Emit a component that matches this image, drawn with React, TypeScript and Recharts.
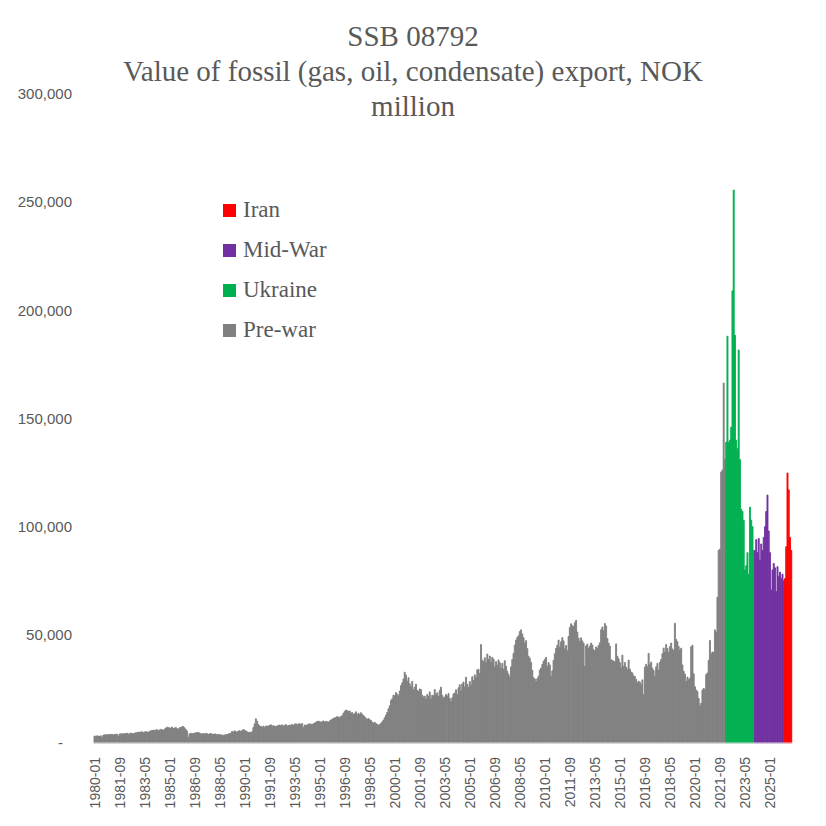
import React from "react";
import { BarChart, Bar, XAxis, YAxis } from "recharts";

// Pre-war monthly values, NOK million (1980-01 .. 2022-01)
const preWar1980s = [
  3200, 3100, 3300, 3200, 3000, 3300, 2500, 3600, 3800, 3700, 3900, 3800,
  3800, 3900, 4000, 3700, 3900, 4100, 4000, 3200, 4100, 4300, 4200, 4300,
  4200, 4400, 4500, 4100, 4300, 4600, 4400, 4300, 4500, 4700, 4800, 5000,
  4900, 5100, 5200, 4800, 5000, 5300, 5100, 5000, 5400, 5600, 5800, 5900,
  5800, 6000, 6200, 5700, 6000, 6300, 6100, 5900, 6400, 6900, 7300, 7100,
  7000, 6800, 7400, 6700, 6900, 7200, 6600, 6500, 7000, 7200, 7500, 7600,
  7000, 6200, 5500, 2600, 4200, 4500, 4300, 4400, 4600, 4700, 4800, 4900,
  4600, 4300, 4200, 4400, 4100, 4500, 4300, 4000, 4200, 4400, 4100, 4000,
  4200, 4100, 3800, 4000, 3700, 3900, 3500, 3600, 3700, 3800, 3900, 4200,
  4300, 4600, 5400, 5000, 5600, 5300, 5100, 5500, 5700, 5300, 5800, 6200,
];
const preWar1990s = [
  6000, 5500, 5200, 4800, 5000, 4800, 5200, 7200, 8800, 11200, 10100, 8600,
  7900, 7600, 7400, 7800, 7200, 7900, 7700, 7900, 8100, 8400, 7800, 8100,
  7600, 7700, 7900, 8100, 8300, 8000, 8400, 7800, 8200, 8500, 7900, 8100,
  8200, 8300, 8600, 8100, 8700, 8900, 8400, 8800, 8900, 8600, 9000, 7100,
  8300, 8200, 8400, 8600, 8900, 8700, 8600, 8900, 9200, 9600, 9900, 10100,
  9800, 9600, 9900, 10200, 9700, 10000, 9800, 9600, 10200, 10600, 11000, 11400,
  11600, 11800, 12200, 12000, 11700, 12300, 12600, 13800, 14600, 15200, 15000, 14600,
  14800, 13800, 14100, 13200, 13600, 14400, 13100, 13800, 13200, 14000, 13300, 12700,
  12100, 11400, 11000, 11300, 10800, 10400, 9700, 9100, 9600, 9000, 8600, 8200,
  8600, 9000, 9800, 10600, 11700, 12900, 14100, 15800, 17200, 19600, 20400, 22100,
];
const preWar2000s = [
  21800, 23300, 22600, 21800, 24000, 26500, 27800, 29600, 32700, 31400, 28600, 30200,
  27400, 26000, 28500, 24600, 25800, 27200, 24400, 23800, 25000, 24700, 22100, 21300,
  21600, 20300, 22400, 21500, 23600, 20400, 22100, 21800, 24700, 22500, 23200, 21600,
  24300, 25800, 22100, 20800, 21300, 22400, 21700, 22900, 20600, 19200, 20900, 22700,
  23100, 24600, 22400, 25500, 26900, 24100, 27300, 28200, 25900, 30400, 27100, 25700,
  28400, 26800, 30600, 28900, 31500, 30400, 33800, 34100, 32200, 45500, 38300, 37600,
  39400, 37200, 41100, 38600, 40200, 37400, 39600, 38800, 35200, 37600, 35900, 38400,
  37100, 34500, 36800, 34100, 38000, 35500, 33200, 31800, 30500, 35200, 38600, 41400,
  45300, 47600, 48800, 49600, 51500, 52300, 50400, 48700, 46200, 47300, 43600, 40100,
  39200, 37300, 33600, 30200, 29600, 28400, 29800, 30900, 33700, 34600, 36300, 37800,
];
const preWar2010s = [
  38700, 39600, 35400, 37200, 36100, 30800, 33400, 38200, 41300, 43800, 45200, 47600,
  44300, 46800, 48700, 47200, 43500, 45100, 42600, 49200, 53400, 55100, 54200, 53800,
  55600, 56700, 51300, 48400, 46900, 48600, 47200, 46100, 35400, 44900, 45700, 43600,
  44800, 46200, 45300, 43100, 42700, 44400, 43800, 45100, 46300, 52400, 53600, 51900,
  55200, 54100, 48300, 46200, 44800, 38500, 38100, 37900, 37400, 45800, 40100, 38900,
  37200, 34800, 40600, 35400, 37200, 35100, 33900, 38300, 34200, 32800, 32400, 31100,
  30700, 29400, 27800, 28600, 28100, 26900, 29200, 22300, 35100, 36400, 35300, 41400,
  36200, 37400, 34600, 33500, 30900, 35200, 36800, 33700, 37300, 38600, 41200, 43900,
  42100, 45500, 43700, 41900, 44600, 46200, 43500, 42700, 55300, 47900, 46800, 44600,
  42900, 43800, 36100, 33200, 31900, 28400, 30500, 29200, 30000, 44500, 45200, 32000,
];
const preWar2020s = [
  26000, 24500, 23800, 20600, 17200, 18400, 24500, 25200, 24800, 31600, 32400, 38200,
  47400, 41200, 42100, 41800, 52300, 51200, 67400, 89100, 89600, 125300, 126200, 166400,
  131200,
];
// 2022-02 .. 2023-12
const ukraine = [
  139000, 188000, 139000, 140000, 146000, 209000, 255600, 188500, 140000, 136000, 181700, 131000,
  108000, 107000, 103000, 80000, 82000, 88000, 78000, 109000, 103000, 100000, 89000,
];
// 2024-01 .. 2025-12
const midWar = [
  89000, 94000, 88000, 94500, 84600, 92000, 89000, 95000, 100000, 107000, 114600, 98000,
  88000, 70700, 80000, 83000, 81000, 70000, 81500, 77000, 79000, 76000, 78000, 75000,
];
// 2026-01 .. 2026-06
const iran = [76000, 90700, 124800, 117000, 95000, 89000];

const yTicks = [0, 50000, 100000, 150000, 200000, 250000, 300000];

const preWar = [...preWar1980s, ...preWar1990s, ...preWar2000s, ...preWar2010s, ...preWar2020s];
const total = preWar.length + ukraine.length + midWar.length + iran.length;
const months: string[] = [];
for (let k = 0; k < total; k++) {
  const yr = 1980 + Math.floor(k / 12);
  const mo = (k % 12) + 1;
  months.push(`${yr}-${mo < 10 ? "0" + mo : mo}`);
}
const data = months.map((m, k) => {
  const a = preWar.length;
  const b = a + ukraine.length;
  const c = b + midWar.length;
  return {
    month: m,
    prewar: k < a ? preWar[k] : null,
    ukraine: k >= a && k < b ? ukraine[k - a] : null,
    midwar: k >= b && k < c ? midWar[k - b] : null,
    iran: k >= c ? iran[k - c] : null,
  };
});

const TXT = "#595959";
const SERIF = "'Liberation Serif', 'DejaVu Serif', serif";
const SANS = "'Liberation Sans', Arial, sans-serif";

const GRAY = "#808080";
const GREEN = "#00B050";
const PURPLE = "#7030A0";
const RED = "#FF0000";

const XTick = (props: any) => {
  const { x, y, payload } = props;
  return (
    <g transform={`translate(${x},${y})`}>
      <text transform="rotate(-90)" x={-6} y={0} dy="0.35em" textAnchor="end" fill={TXT} fontSize={14} fontFamily={SANS}>
        {payload.value}
      </text>
    </g>
  );
};

const YTick = (props: any) => {
  const { x, y, payload } = props;
  const v = payload.value as number;
  const label = v === 0 ? "-" : v.toLocaleString("en-US");
  return (
    <text x={v === 0 ? x - 9 : x} y={y} dy="0.35em" textAnchor="end" fill={TXT} fontSize={15} fontFamily={SANS}>
      {label}
    </text>
  );
};

const legendItems = [
  { name: "Iran", color: RED },
  { name: "Mid-War", color: PURPLE },
  { name: "Ukraine", color: GREEN },
  { name: "Pre-war", color: GRAY },
];

export default function App() {
  return (
    <div style={{ position: "relative", width: 826, height: 826, background: "#fff" }}>
      <style>{"body{margin:0}"}</style>
      <BarChart
        width={826}
        height={826}
        data={data}
        margin={{ top: 94, right: 34, bottom: 8, left: 0 }}
        barCategoryGap={0}
        barGap={0}
      >
        <XAxis
          dataKey="month"
          interval={19}
          tick={<XTick />}
          tickLine={false}
          axisLine={{ stroke: "#D9D9D9", strokeWidth: 1 }}
          height={75}
        />
        <YAxis
          domain={[0, 300000]}
          ticks={yTicks}
          tick={<YTick />}
          tickLine={false}
          axisLine={false}
          tickSize={6}
          tickMargin={16}
          width={94}
          interval={0}
        />
        <Bar dataKey="prewar" stackId="a" fill={GRAY} stroke={GRAY} strokeWidth={0.9} isAnimationActive={false} />
        <Bar dataKey="ukraine" stackId="a" fill={GREEN} stroke={GREEN} strokeWidth={0.9} isAnimationActive={false} />
        <Bar dataKey="midwar" stackId="a" fill={PURPLE} stroke={PURPLE} strokeWidth={0.9} isAnimationActive={false} />
        <Bar dataKey="iran" stackId="a" fill={RED} stroke={RED} strokeWidth={0.9} isAnimationActive={false} />
      </BarChart>
      <div
        style={{
          position: "absolute",
          left: 0,
          top: 19,
          width: 826,
          textAlign: "center",
          fontFamily: SERIF,
          fontSize: 29,
          lineHeight: "35px",
          color: TXT,
        }}
      >
        <div>SSB 08792</div>
        <div>Value of fossil (gas, oil, condensate) export, NOK</div>
        <div>million</div>
      </div>
      <div style={{ position: "absolute", left: 223, top: 190, fontFamily: SERIF, fontSize: 23, color: TXT }}>
        {legendItems.map((it) => (
          <div key={it.name} style={{ display: "flex", alignItems: "center", height: 40 }}>
            <span style={{ display: "inline-block", width: 13, height: 13, background: it.color, marginRight: 7 }} />
            <span>{it.name}</span>
          </div>
        ))}
      </div>
    </div>
  );
}
